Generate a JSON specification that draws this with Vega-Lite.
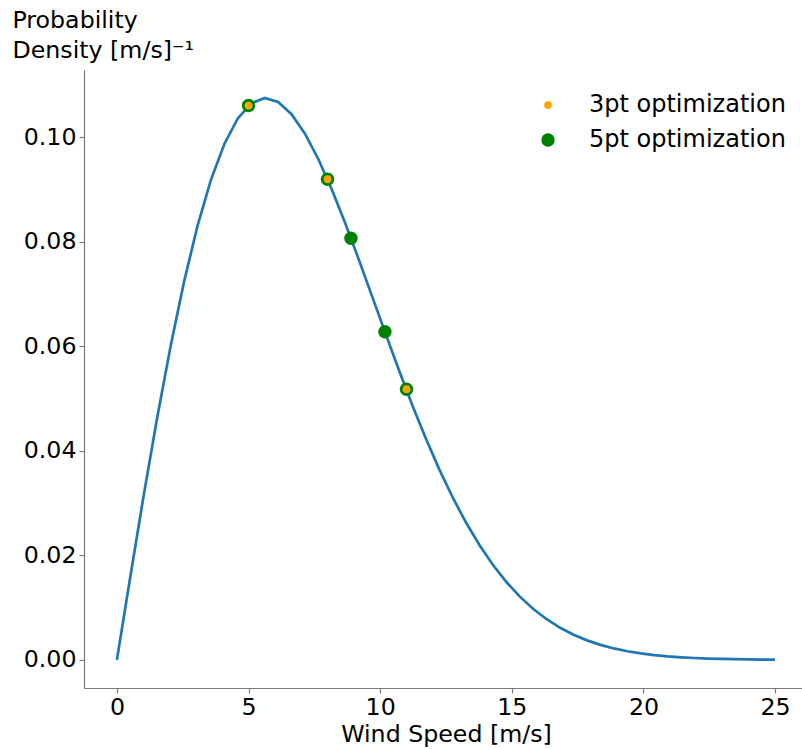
{
  "$schema": "https://vega.github.io/schema/vega-lite/v6.json",
  "width": 724,
  "height": 618,
  "autosize": "none",
  "padding": {"left": 84, "top": 70, "right": 0, "bottom": 61},
  "config": {
    "view": {"stroke": null},
    "font": "DejaVu Sans",
    "axis": {"grid": false, "domainColor": "#7a7a7a", "tickColor": "#7a7a7a", "domainWidth": 1.2, "tickWidth": 1.2, "labelColor": "black", "titleColor": "black", "labelFont": "DejaVu Sans", "titleFont": "DejaVu Sans", "titleFontWeight": "normal"}
  },
  "datasets": {
    "curve": [
      {"speed": 0.0, "pdf": 0.0},
      {"speed": 0.5102, "pdf": 0.015974},
      {"speed": 1.0204, "pdf": 0.031557},
      {"speed": 1.5306, "pdf": 0.046378},
      {"speed": 2.0408, "pdf": 0.060091},
      {"speed": 2.551, "pdf": 0.072398},
      {"speed": 3.0612, "pdf": 0.083054},
      {"speed": 3.5714, "pdf": 0.091876},
      {"speed": 4.0816, "pdf": 0.09875},
      {"speed": 4.5918, "pdf": 0.10363},
      {"speed": 5.102, "pdf": 0.10653},
      {"speed": 5.6122, "pdf": 0.10754},
      {"speed": 6.1224, "pdf": 0.10678},
      {"speed": 6.6327, "pdf": 0.10443},
      {"speed": 7.1429, "pdf": 0.1007},
      {"speed": 7.6531, "pdf": 0.095825},
      {"speed": 8.1633, "pdf": 0.090036},
      {"speed": 8.6735, "pdf": 0.083579},
      {"speed": 9.1837, "pdf": 0.076687},
      {"speed": 9.6939, "pdf": 0.069576},
      {"speed": 10.2041, "pdf": 0.062437},
      {"speed": 10.7143, "pdf": 0.055434},
      {"speed": 11.2245, "pdf": 0.048702},
      {"speed": 11.7347, "pdf": 0.042361},
      {"speed": 12.2449, "pdf": 0.036464},
      {"speed": 12.7551, "pdf": 0.031088},
      {"speed": 13.2653, "pdf": 0.026242},
      {"speed": 13.7755, "pdf": 0.021937},
      {"speed": 14.2857, "pdf": 0.018164},
      {"speed": 14.7959, "pdf": 0.0149},
      {"speed": 15.3061, "pdf": 0.012109},
      {"speed": 15.8163, "pdf": 0.0097483},
      {"speed": 16.3265, "pdf": 0.0077772},
      {"speed": 16.8367, "pdf": 0.0061472},
      {"speed": 17.3469, "pdf": 0.0048146},
      {"speed": 17.8571, "pdf": 0.0037369},
      {"speed": 18.3673, "pdf": 0.0028752},
      {"speed": 18.8776, "pdf": 0.0021925},
      {"speed": 19.3878, "pdf": 0.0016568},
      {"speed": 19.898, "pdf": 0.0012408},
      {"speed": 20.4082, "pdf": 0.0009211},
      {"speed": 20.9184, "pdf": 0.00067774},
      {"speed": 21.4286, "pdf": 0.00049426},
      {"speed": 21.9388, "pdf": 0.00035735},
      {"speed": 22.449, "pdf": 0.00025615},
      {"speed": 22.9592, "pdf": 0.00018204},
      {"speed": 23.4694, "pdf": 0.00012826},
      {"speed": 23.9796, "pdf": 0.0000896},
      {"speed": 24.4898, "pdf": 0.000062},
      {"speed": 25.0, "pdf": 0.0000426}
    ],
    "opt": [
      {"speed": 5.0, "pdf": 0.1061, "series": "5pt optimization"},
      {"speed": 8.0, "pdf": 0.092, "series": "5pt optimization"},
      {"speed": 8.89, "pdf": 0.0807, "series": "5pt optimization"},
      {"speed": 10.18, "pdf": 0.0628, "series": "5pt optimization"},
      {"speed": 11.0, "pdf": 0.0518, "series": "5pt optimization"},
      {"speed": 5.0, "pdf": 0.1061, "series": "3pt optimization"},
      {"speed": 8.0, "pdf": 0.092, "series": "3pt optimization"},
      {"speed": 11.0, "pdf": 0.0518, "series": "3pt optimization"}
    ]
  },
  "layer": [
    {
      "data": {"name": "curve"},
      "mark": {"type": "line", "color": "#1f77b4", "strokeWidth": 2.7},
      "encoding": {
        "x": {"field": "speed", "type": "quantitative", "scale": {"domain": [-1.25, 26.25], "nice": false, "zero": false},
          "axis": {"values": [0, 5, 10, 15, 20, 25], "title": "Wind Speed [m/s]", "labelFontSize": 23.7, "titleFontSize": 23.7, "tickSize": 5, "labelPadding": 2, "titlePadding": 4, "labelFlush": false}},
        "y": {"field": "pdf", "type": "quantitative", "scale": {"domain": [-0.00538, 0.1129], "nice": false, "zero": false},
          "axis": {"values": [0, 0.02, 0.04, 0.06, 0.08, 0.1], "format": ".2f", "labelFontSize": 23.7, "tickSize": 5, "labelPadding": 3, "labelFlush": false,
            "title": ["Probability", "Density [m/s]⁻¹"], "titleFontSize": 23.7, "titleAngle": 0, "titleAlign": "left", "titleBaseline": "alphabetic", "titleX": -72, "titleY": -43, "titleLineHeight": 30}}
      }
    },
    {
      "data": {"name": "opt"},
      "mark": {"type": "point", "filled": true, "opacity": 1, "strokeWidth": 0},
      "encoding": {
        "x": {"field": "speed", "type": "quantitative"},
        "y": {"field": "pdf", "type": "quantitative"},
        "color": {"field": "series", "type": "nominal",
          "scale": {"domain": ["3pt optimization", "5pt optimization"], "range": ["orange", "green"]},
          "legend": {"title": null, "orient": "none", "legendX": 452, "legendY": 23, "labelFontSize": 24, "labelFont": "DejaVu Sans", "labelLimit": 400, "labelOffset": 29, "rowPadding": 11,
            "encode": {"labels": {"update": {"fill": {"signal": "datum.value === '3pt optimization' ? 'orange' : 'green'"}, "dy": {"value": -3}}}}}},
        "size": {"field": "series", "type": "nominal",
          "scale": {"domain": ["3pt optimization", "5pt optimization"], "range": [60, 180]}},
        "order": {"field": "series", "type": "nominal", "sort": "descending"}
      }
    }
  ]
}
